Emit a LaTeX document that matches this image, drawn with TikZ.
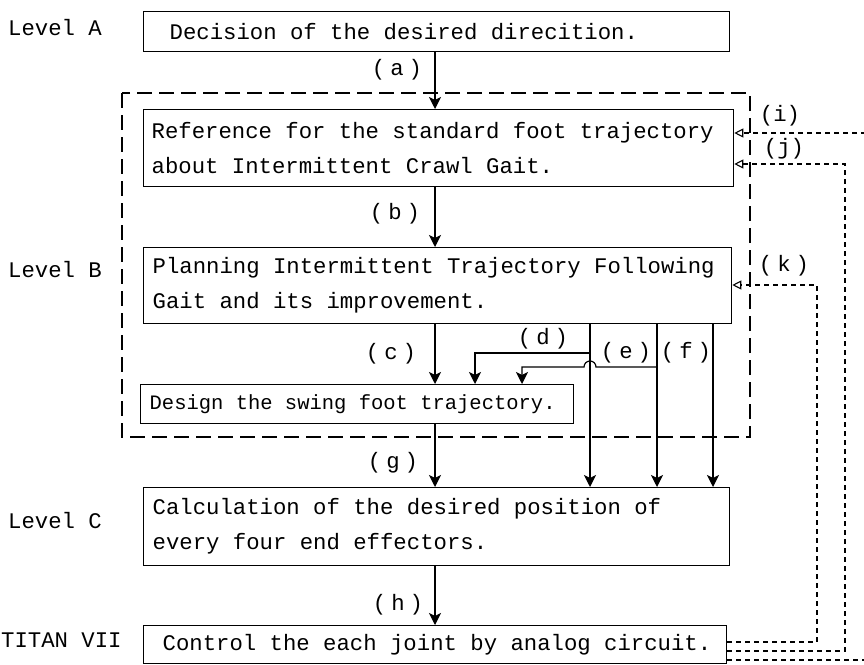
\documentclass[tikz,border=0pt]{standalone}
\usepackage{fontspec}
\setmonofont{Liberation Mono}
\usetikzlibrary{arrows.meta}
\newcommand\plab[1]{(\hspace{5pt}#1\hspace{5pt})}
\newcommand\ms{\spaceskip=0.6em\relax\xspaceskip=0.6em\relax}
\begin{document}
\begin{tikzpicture}[x=1pt,y=-1pt,
  every node/.style={font=\ttfamily\fontsize{22.3}{35}\selectfont},
  box/.style={draw,line width=1.3pt,rectangle,anchor=north west,align=left,inner ysep=0pt},
  lbl/.style={inner sep=0pt},
  arr/.style={line width=1.2pt,-{Stealth[length=12pt,width=12pt,inset=3pt]}},
  fb/.style={line width=1.1pt,dash pattern=on 5pt off 4pt,-{Triangle[open,length=9pt,width=9pt,line width=1.1pt]}},
  fbline/.style={line width=1.1pt,dash pattern=on 5pt off 4pt},
  region/.style={line width=1.1pt,dash pattern=on 15pt off 7pt}
]
\useasboundingbox (0,0) rectangle (864,664);
\fill[white] (0,0) rectangle (864,664);

% level labels
\node[lbl,anchor=west] (LA) at (8,28) {Level A};
\node[lbl,anchor=west] (LB) at (8,270) {Level B};
\node[lbl,anchor=west] (LC) at (8,521) {Level C};
\node[lbl,anchor=west] (LD) at (1,640) {TITAN VII};

% dashed region
\draw[region] (122,93) rectangle (750,437);

% boxes
\node[box,minimum width=586pt,minimum height=40pt,inner xsep=26pt,text width=534pt] (A) at (143,11)
  {\ms Decision of the desired direcition.};
\node[box,minimum width=590pt,minimum height=77pt,inner xsep=8pt,text width=574pt] (B1) at (143,109)
  {\ms Reference for the standard foot trajectory\\about Intermittent Crawl Gait.};
\node[box,minimum width=588pt,minimum height=76pt,inner xsep=9pt,text width=570pt] (B2) at (143,247)
  {\ms Planning Intermittent Trajectory Following\\Gait and its improvement.};
\node[box,minimum width=433pt,minimum height=39pt,inner xsep=9pt,text width=415pt,
      font=\ttfamily\fontsize{20.5}{30}\selectfont] (B3) at (140,384)
  {\ms Design the swing foot trajectory.};
\node[box,minimum width=586pt,minimum height=78pt,inner xsep=9pt,text width=568pt] (C) at (143,487)
  {\ms Calculation of the desired position of\\every four end effectors.};
\node[box,minimum width=583pt,minimum height=38pt,inner xsep=0pt,text width=583pt] (D) at (143,625)
  {\ms\hspace*{19pt}Control the each joint by analog circuit.};

% x positions
\coordinate (xm) at (435,0);
\coordinate (xd) at (590,0);
\coordinate (xe) at (657,0);
\coordinate (xf) at (713,0);

% main arrows
\draw[arr] (A.south -| xm) -- (B1.north -| xm);
\draw[arr] (B1.south -| xm) -- (B2.north -| xm);
\draw[arr] (B2.south -| xm) -- (B3.north -| xm);
\draw[arr] (B3.south -| xm) -- (C.north -| xm);
\draw[arr] (C.south -| xm) -- (D.north -| xm);
\draw[arr] (B2.south -| xd) -- (C.north -| xd);
\draw[arr] (B2.south -| xe) -- (C.north -| xe);
\draw[arr] (B2.south -| xf) -- (C.north -| xf);

% branches (d) and (e)
\coordinate (d1) at (590,353);
\coordinate (d2) at (475,353);
\draw[arr] (d1) -- (d2) -- (B3.north -| d2);
\coordinate (e1) at (657,367);
\coordinate (e2) at (596,367);
\coordinate (e3) at (522,367);
\draw[arr] (e1) -- (e2) arc[start angle=0,end angle=180,radius=6pt] -- (e3) -- (B3.north -| e3);

% labels
\node[lbl] (la) at (397,70) {\plab{a}};
\node[lbl] (lb) at (395,214) {\plab{b}};
\node[lbl] (lc) at (391,354) {\plab{c}};
\node[lbl] (ld) at (543,339) {\plab{d}};
\node[lbl] (le) at (626,353) {\plab{e}};
\node[lbl] (lf) at (686,353) {\plab{f}};
\node[lbl] (lg) at (393,463) {\plab{g}};
\node[lbl] (lh) at (398,605) {\plab{h}};
\node[lbl] (li) at (780,116) {(i)};
\node[lbl] (lj) at (784,149) {(j)};
\node[lbl] (lk) at (784,266) {\plab{k}};

% feedback lines
\coordinate (k1) at (817,642);
\coordinate (k2) at (817,285);
\draw[fb] (D.east |- k1) -- (k1) -- (k2) -- (B2.east |- k2);
\coordinate (j1) at (845,651);
\coordinate (j2) at (845,164);
\draw[fb] (D.east |- j1) -- (j1) -- (j2) -- (B1.east |- j2);
\coordinate (i1) at (866,660);
\coordinate (i2) at (866,133);
\draw[fbline] (D.east |- i1) -- (i1);
\draw[fb] (i2) -- (B1.east |- i2);
\end{tikzpicture}
\end{document}
